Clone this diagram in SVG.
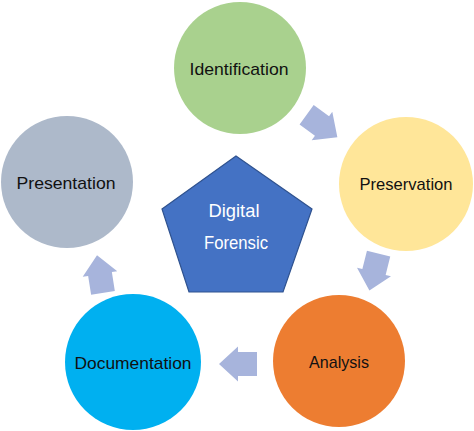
<svg xmlns="http://www.w3.org/2000/svg" width="474" height="431" viewBox="0 0 474 431">
<defs>
<style>
.lbl{font-family:"Liberation Sans","Noto Sans",Arial,sans-serif;font-size:17px;fill:#111;text-anchor:middle}
.wl{font-family:"Liberation Sans","Noto Sans",Arial,sans-serif;font-size:19px;fill:#fff;text-anchor:middle}
.arr{fill:#A7B4DC}
</style>
<polygon id="arrowShape" points="-19,-12 0,-12 0,-17.5 19,0 0,17.5 0,12 -19,12"/>
</defs>
<rect width="474" height="431" fill="#fff"/>
<g id="connectors">
<use href="#arrowShape" class="arr" transform="translate(322,126) rotate(36)"/>
<use href="#arrowShape" class="arr" transform="translate(374,272) rotate(104)"/>
<use href="#arrowShape" class="arr" transform="translate(238,364) rotate(180)"/>
<use href="#arrowShape" class="arr" transform="translate(100,274) rotate(-99)"/>
</g>
<g id="center">
<polygon points="236,156 312,209 283,292 189,292 162,209" fill="#4472C4" stroke="#2F528F" stroke-width="1.2"/>
<text class="wl" x="234" y="217" textLength="51" lengthAdjust="spacingAndGlyphs">Digital</text>
<text class="wl" x="236" y="249" textLength="64" lengthAdjust="spacingAndGlyphs">Forensic</text>
</g>
<g id="identification">
<circle cx="240" cy="68" r="66" fill="#A9D18E"/>
<text class="lbl" x="239" y="75" textLength="99" lengthAdjust="spacingAndGlyphs">Identification</text>
</g>
<g id="preservation">
<circle cx="406" cy="184" r="67" fill="#FFE699"/>
<text class="lbl" x="406" y="190" textLength="93" lengthAdjust="spacingAndGlyphs">Preservation</text>
</g>
<g id="analysis">
<circle cx="339" cy="361" r="66" fill="#ED7D31"/>
<text class="lbl" x="339" y="368" textLength="60" lengthAdjust="spacingAndGlyphs">Analysis</text>
</g>
<g id="documentation">
<circle cx="133" cy="362" r="68" fill="#00B0F0"/>
<text class="lbl" x="133" y="369" textLength="117" lengthAdjust="spacingAndGlyphs">Documentation</text>
</g>
<g id="presentation">
<circle cx="67" cy="182" r="66" fill="#ADB9CA"/>
<text class="lbl" x="66" y="189" textLength="99" lengthAdjust="spacingAndGlyphs">Presentation</text>
</g>
</svg>
